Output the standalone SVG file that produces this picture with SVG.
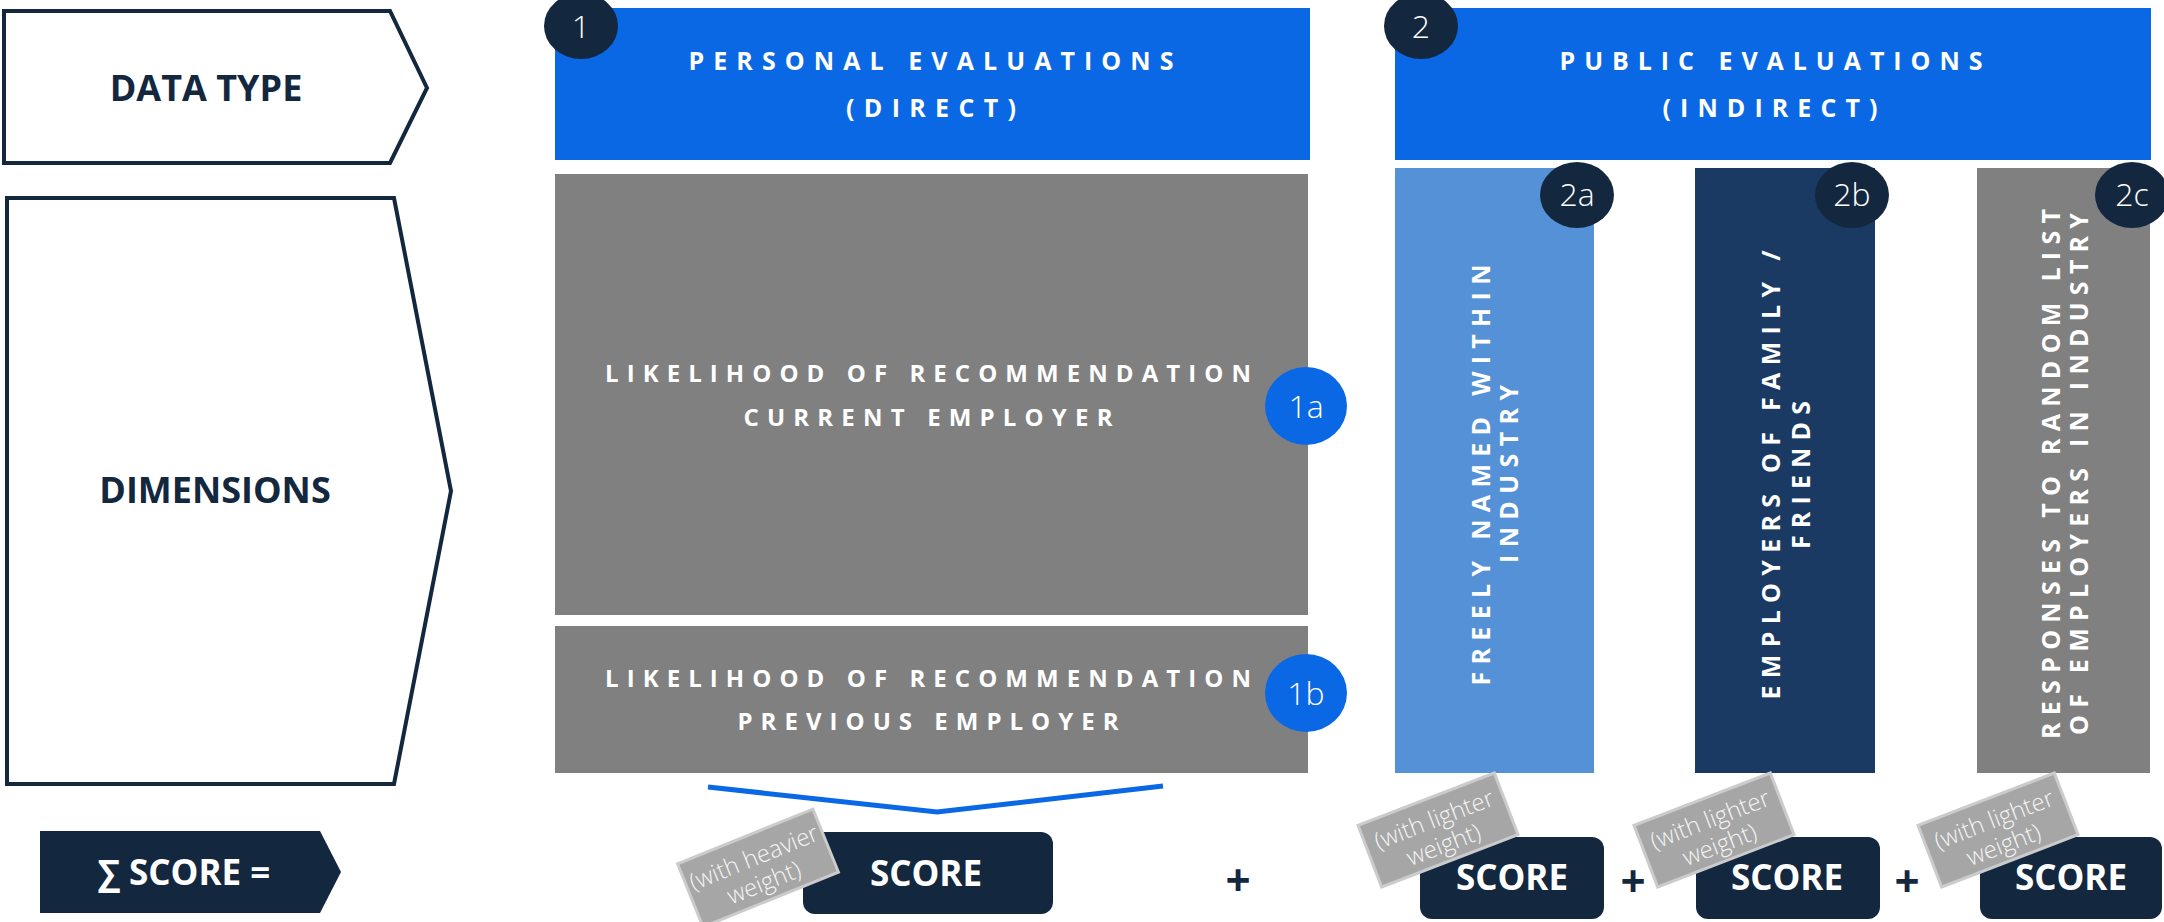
<svg xmlns="http://www.w3.org/2000/svg" width="2164" height="922" viewBox="0 0 2164 922">
<style>
.lbl{font-family:"Open Sans","Liberation Sans",sans-serif;font-weight:700;fill:#13273F;text-anchor:middle}
.hdr{font-family:"Open Sans","Liberation Sans",sans-serif;font-weight:700;font-size:25px;fill:#FFFFFF;text-anchor:middle}
.dim{font-family:"Open Sans","Liberation Sans",sans-serif;font-weight:700;font-size:24px;fill:#FFFFFF;text-anchor:middle}
.vt{font-family:"Open Sans","Liberation Sans",sans-serif;font-weight:700;font-size:25px;fill:#FFFFFF;text-anchor:middle}
.bd{font-family:"Open Sans","Liberation Sans",sans-serif;font-weight:300;font-size:32px;fill:#FFFFFF;text-anchor:middle}
.sc{font-family:"Open Sans","Liberation Sans",sans-serif;font-weight:700;font-size:35px;fill:#FFFFFF;text-anchor:middle}
.plus{font-family:"Open Sans","Liberation Sans",sans-serif;font-weight:700;font-size:44px;fill:#13273F;text-anchor:middle}
.tg{font-family:"Open Sans","Liberation Sans",sans-serif;font-weight:300;font-size:24px;fill:#F4F4F4;text-anchor:middle}
.outline{fill:#FFFFFF;stroke:#13273F;stroke-width:4}
.navy{fill:#13273F}
.blue{fill:#0A68E5}
.gray{fill:#808080}
.tagbox{fill:#A6A6A6;stroke:#CBCBCB;stroke-width:3}
</style>

<g id="datatype">
<polygon class="outline" points="4,11 390,11 427,88 390,163 4,163"/>
<text class="lbl" x="206" y="101" font-size="36">DATA TYPE</text>
</g>

<g id="dimensions">
<polygon class="outline" points="7,198 394,198 451,491 394,784 7,784"/>
<text class="lbl" x="215" y="503" font-size="36">DIMENSIONS</text>
</g>

<g id="header1">
<rect class="blue" x="555" y="8" width="755" height="152"/>
<text class="hdr" x="931" y="70" textLength="485" lengthAdjust="spacing">PERSONAL EVALUATIONS</text>
<text class="hdr" x="931" y="117" textLength="170" lengthAdjust="spacing">(DIRECT)</text>
</g>
<g id="badge1">
<ellipse class="navy" cx="581" cy="26" rx="37" ry="33"/>
<text class="bd" x="581" y="38">1</text>
</g>

<g id="header2">
<rect class="blue" x="1395" y="8" width="756" height="152"/>
<text class="hdr" x="1771" y="70" textLength="423" lengthAdjust="spacing">PUBLIC EVALUATIONS</text>
<text class="hdr" x="1770" y="117" textLength="215" lengthAdjust="spacing">(INDIRECT)</text>
</g>
<g id="badge2">
<ellipse class="navy" cx="1421" cy="26" rx="37" ry="33"/>
<text class="bd" x="1421" y="38">2</text>
</g>

<g id="dim1a">
<rect class="gray" x="555" y="174" width="753" height="441"/>
<text class="dim" x="928" y="382" textLength="646" lengthAdjust="spacing">LIKELIHOOD OF RECOMMENDATION</text>
<text class="dim" x="928" y="426" textLength="369" lengthAdjust="spacing">CURRENT EMPLOYER</text>
<ellipse class="blue" cx="1306" cy="406" rx="41" ry="39"/>
<text class="bd" x="1306" y="418" font-size="33">1a</text>
</g>

<g id="dim1b">
<rect class="gray" x="555" y="626" width="753" height="147"/>
<text class="dim" x="928" y="687" textLength="646" lengthAdjust="spacing">LIKELIHOOD OF RECOMMENDATION</text>
<text class="dim" x="928" y="730" textLength="381" lengthAdjust="spacing">PREVIOUS EMPLOYER</text>
<ellipse class="blue" cx="1306" cy="693" rx="41" ry="39"/>
<text class="bd" x="1306" y="705" font-size="33">1b</text>
</g>

<g id="dim2a">
<rect x="1395" y="168" width="199" height="605" fill="#5591D7"/>
<text class="vt" transform="translate(1490,475) rotate(-90)" x="0" y="0" textLength="421" lengthAdjust="spacing">FREELY NAMED WITHIN</text>
<text class="vt" transform="translate(1518,474) rotate(-90)" x="0" y="0" textLength="178" lengthAdjust="spacing">INDUSTRY</text>
<ellipse class="navy" cx="1577" cy="195" rx="37" ry="33"/>
<text class="bd" x="1577" y="206">2a</text>
</g>

<g id="dim2b">
<rect x="1695" y="168" width="180" height="605" fill="#1A3A63"/>
<text class="vt" transform="translate(1780,475) rotate(-90)" x="0" y="0" textLength="449" lengthAdjust="spacing">EMPLOYERS OF FAMILY /</text>
<text class="vt" transform="translate(1810,475) rotate(-90)" x="0" y="0" textLength="148" lengthAdjust="spacing">FRIENDS</text>
<ellipse class="navy" cx="1852" cy="195" rx="37" ry="33"/>
<text class="bd" x="1852" y="206">2b</text>
</g>

<g id="dim2c">
<rect class="gray" x="1977" y="168" width="173" height="605"/>
<text class="vt" transform="translate(2060,474) rotate(-90)" x="0" y="0" textLength="530" lengthAdjust="spacing">RESPONSES TO RANDOM LIST</text>
<text class="vt" transform="translate(2088,474) rotate(-90)" x="0" y="0" textLength="522" lengthAdjust="spacing">OF EMPLOYERS IN INDUSTRY</text>
<ellipse class="navy" cx="2132" cy="195" rx="37" ry="33"/>
<text class="bd" x="2132" y="206">2c</text>
</g>

<g id="connectors">
<polyline points="708,787 937,812 1163,786" fill="none" stroke="#0A68E5" stroke-width="5"/>
</g>

<g id="sumscore">
<polygon class="navy" points="40,831 320,831 341,872 320,913 40,913"/>
<text class="sc" x="184" y="885">∑ SCORE =</text>
</g>

<g id="score1">
<rect class="navy" x="803" y="832" width="250" height="82" rx="12"/>
<text class="sc" x="926" y="886">SCORE</text>
</g>
<g id="plus1"><text class="plus" x="1238" y="896">+</text></g>

<g id="score2a">
<rect class="navy" x="1420" y="837" width="184" height="82" rx="12"/>
<text class="sc" x="1512" y="890">SCORE</text>
</g>
<g id="plus2"><text class="plus" x="1633" y="897">+</text></g>
<g id="score2b">
<rect class="navy" x="1696" y="837" width="184" height="82" rx="12"/>
<text class="sc" x="1787" y="890">SCORE</text>
</g>
<g id="plus3"><text class="plus" x="1907" y="897">+</text></g>
<g id="score2c">
<rect class="navy" x="1980" y="837" width="182" height="82" rx="12"/>
<text class="sc" x="2071" y="890">SCORE</text>
</g>

<g id="tag1" transform="translate(758,868) rotate(-22)">
<rect class="tagbox" x="-73" y="-34" width="146" height="68"/>
<text class="tg" x="0" y="-3">(with heavier</text>
<text class="tg" x="0" y="24">weight)</text>
</g>
<g id="tag2a" transform="translate(1438,830) rotate(-21)">
<rect class="tagbox" x="-73" y="-33" width="146" height="66"/>
<text class="tg" x="0" y="-3">(with lighter</text>
<text class="tg" x="0" y="24">weight)</text>
</g>
<g id="tag2b" transform="translate(1714,830) rotate(-21)">
<rect class="tagbox" x="-73" y="-33" width="146" height="66"/>
<text class="tg" x="0" y="-3">(with lighter</text>
<text class="tg" x="0" y="24">weight)</text>
</g>
<g id="tag2c" transform="translate(1998,830) rotate(-21)">
<rect class="tagbox" x="-73" y="-33" width="146" height="66"/>
<text class="tg" x="0" y="-3">(with lighter</text>
<text class="tg" x="0" y="24">weight)</text>
</g>
</svg>
